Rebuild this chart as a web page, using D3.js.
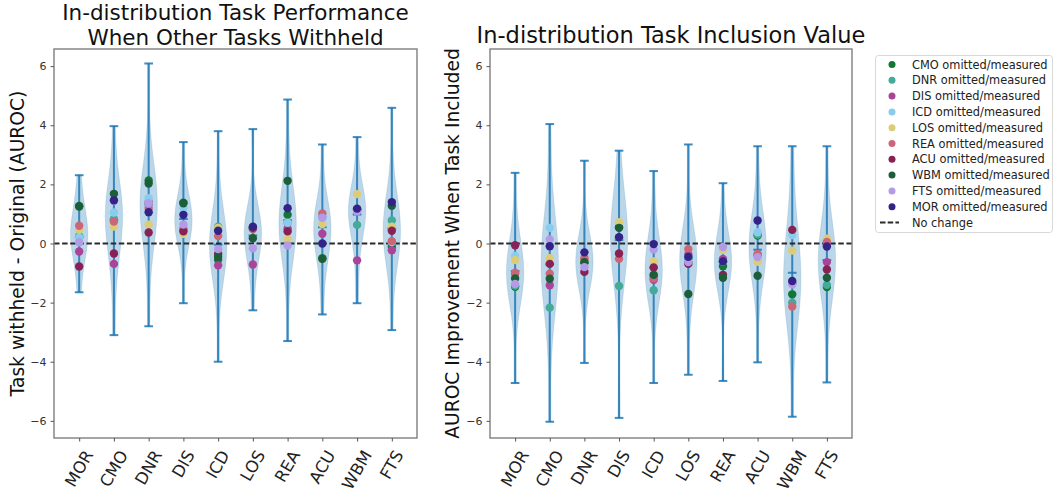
<!DOCTYPE html>
<html>
<head>
<meta charset="utf-8">
<script src="https://cdnjs.cloudflare.com/ajax/libs/d3/7.8.5/d3.min.js"></script>
<style>
  body { margin: 0; background: #fff; }
  svg { display: block; font-family: "DejaVu Sans", sans-serif; }
</style>
</head>
<body>
<div id="chart"></div>
<script>
// tasks on the x axis (measured task)
const tasks = ["MOR", "CMO", "DNR", "DIS", "ICD", "LOS", "REA", "ACU", "WBM", "FTS"];

// omitted tasks, in legend order
const seriesNames = ["CMO", "DNR", "DIS", "ICD", "LOS", "REA", "ACU", "WBM", "FTS", "MOR"];
const seriesColors = ["#117733", "#44aa99", "#aa4499", "#88ccee", "#ddcc77",
                      "#cc6677", "#882255", "#1d5e3a", "#b39be8", "#332288"];

const yTicks = [-6, -4, -2, 0, 2, 4, 6];

// left panel: task withheld - original, one row per omitted task, one column per measured task
const withheldDots = [
  [1.27, null, 2.13, 1.38, -0.55, 0.50, 0.97, -0.50, 1.15, -0.12],   // CMO
  [0.25, 0.83, null, 0.50, 0.57, 0.55, 0.69, 0.90, 0.63, 0.78],      // DNR
  [-0.27, -0.69, 1.40, null, -0.74, -0.71, 0.50, 0.33, -0.57, -0.23], // DIS
  [0.20, 1.05, 1.53, 1.20, null, 0.55, 0.70, 0.85, 1.10, 0.05],      // ICD
  [0.46, 0.57, 0.64, 0.33, 0.53, null, 0.15, 0.66, 1.67, 0.57],      // LOS
  [0.60, 0.74, 1.20, 0.46, 0.25, 0.50, null, 1.02, 1.10, 0.08],      // REA
  [-0.78, -0.34, 0.37, 0.41, -0.35, 0.53, 0.41, null, 1.15, 0.43],   // ACU
  [1.25, 1.68, 2.03, 1.36, -0.45, 0.18, 2.12, -0.52, null, 1.28],    // WBM
  [0.04, 1.44, 1.36, 0.64, -0.19, -0.16, -0.07, 0.87, 1.09, null],   // FTS
  [null, 1.46, 1.06, 0.97, 0.43, 0.57, 1.19, 0.00, 1.18, 1.40]       // MOR
];
const withheldMin = [-1.65, -3.10, -2.80, -2.02, -4.00, -2.26, -3.30, -2.40, -2.02, -2.93];
const withheldMax = [2.31, 3.97, 6.09, 3.43, 3.80, 3.87, 4.87, 3.35, 3.60, 4.59];
const withheldMean = [0.21, 0.79, 1.32, 0.83, -0.04, 0.27, 0.79, 0.55, 0.98, 0.51];

// right panel: AUROC improvement when task included
const inclusionDots = [
  [-1.46, null, -0.65, 0.55, -1.10, -0.50, -0.77, 0.27, -1.72, -1.47],   // CMO
  [-1.42, -2.17, null, -1.44, -1.58, -0.50, -0.60, 0.30, -2.00, -1.40],  // DNR
  [-1.02, -1.41, -0.55, null, -1.23, -0.37, -0.52, -0.40, -1.35, -0.63], // DIS
  [-0.42, 0.53, -0.60, 0.70, null, -0.45, -0.60, 0.38, 0.29, 0.10],      // ICD
  [-0.56, -0.50, -0.57, 0.72, -0.61, null, -0.22, -0.62, -0.24, 0.16],   // LOS
  [-0.99, -1.02, -0.50, -0.52, -1.18, -0.19, null, -0.35, -2.13, 0.05],  // REA
  [-0.06, -0.69, -0.96, -0.34, -0.81, -0.69, -1.06, null, 0.46, -0.88],  // ACU
  [-1.18, -1.19, -0.63, 0.53, -1.06, -1.71, -1.16, -1.09, null, -1.16],  // WBM
  [-1.37, 0.14, -0.80, 0.20, -0.20, -0.63, -0.12, -0.46, -1.38, null],   // FTS
  [null, -0.09, -0.30, 0.21, -0.02, -0.45, -0.60, 0.78, -1.27, -0.10]    // MOR
];
const inclusionMin = [-4.72, -6.03, -4.04, -5.90, -4.72, -4.44, -4.65, -4.02, -5.86, -4.70];
const inclusionMax = [2.39, 4.04, 2.80, 3.14, 2.45, 3.35, 2.04, 3.29, 3.29, 3.29];
const inclusionMean = [-0.93, -0.70, -0.65, 0.12, -0.82, -0.63, -0.62, -0.21, -0.99, -0.56];

const width = 1053, height = 492;
const violinBlue = "#1f77b4";

const svg = d3.select("#chart").append("svg")
  .attr("width", width)
  .attr("height", height);

svg.append("rect").attr("width", width).attr("height", height).attr("fill", "#fff");

// gaussian kde, scott's rule, like matplotlib's violinplot
function violinProfile(samples, lo, hi) {
  const n = samples.length;
  const bw = d3.deviation(samples) * Math.pow(n, -1 / 5);
  return d3.range(100).map(i => {
    const v = lo + (hi - lo) * i / 99;
    const dens = d3.sum(samples, s => Math.exp(-0.5 * ((v - s) / bw) ** 2));
    return { v, dens };
  });
}

function drawPanel(cfg) {
  const x = d3.scaleLinear().domain([0.275, 10.725]).range([cfg.left, cfg.right]);
  const y = d3.scaleLinear().domain([-6.58, 6.58]).range([cfg.bottom, cfg.top]);
  const g = svg.append("g");

  // violin bodies
  tasks.forEach((t, i) => {
    const pos = i + 1;
    const vals = cfg.dots.map(row => row[i]).filter(v => v !== null);
    const samples = vals.concat([cfg.min[i], cfg.max[i]]);
    const prof = violinProfile(samples, cfg.min[i], cfg.max[i]);
    const maxD = d3.max(prof, d => d.dens);
    const area = d3.area()
      .x0(d => x(pos - 0.25 * d.dens / maxD))
      .x1(d => x(pos + 0.25 * d.dens / maxD))
      .y(d => y(d.v));
    g.append("path")
      .attr("d", area(prof))
      .attr("fill", violinBlue)
      .attr("fill-opacity", 0.3)
      .attr("stroke", violinBlue)
      .attr("stroke-opacity", 0.15)
      .attr("stroke-width", 1);
  });

  // bars, caps, means
  const capHalf = 0.125;
  tasks.forEach((t, i) => {
    const pos = i + 1;
    const line = (x1, y1, x2, y2) => g.append("line")
      .attr("x1", x1).attr("y1", y1).attr("x2", x2).attr("y2", y2)
      .attr("stroke", violinBlue).attr("stroke-width", 2).attr("stroke-opacity", 0.85);
    line(x(pos), y(cfg.min[i]), x(pos), y(cfg.max[i]));
    [cfg.min[i], cfg.max[i], cfg.mean[i]].forEach(v =>
      line(x(pos - capHalf), y(v), x(pos + capHalf), y(v)));
  });

  // no-change line
  g.append("line")
    .attr("x1", cfg.left).attr("x2", cfg.right)
    .attr("y1", y(0)).attr("y2", y(0))
    .attr("stroke", "#2a2a2a").attr("stroke-width", 1.8)
    .attr("stroke-dasharray", "5.5,2.6");

  // dots, one series at a time, in legend order
  cfg.dots.forEach((row, si) => {
    g.append("g").selectAll("circle")
      .data(row.map((v, i) => ({ v, i })).filter(d => d.v !== null))
      .enter().append("circle")
      .attr("cx", d => x(d.i + 1))
      .attr("cy", d => y(d.v))
      .attr("r", 4.2)
      .attr("fill", seriesColors[si]);
  });

  // frame
  g.append("rect")
    .attr("x", cfg.left).attr("y", cfg.top)
    .attr("width", cfg.right - cfg.left).attr("height", cfg.bottom - cfg.top)
    .attr("fill", "none").attr("stroke", "#7f7f7f").attr("stroke-width", 1.4);

  // y axis
  const ya = g.append("g")
    .attr("transform", `translate(${cfg.left},0)`)
    .call(d3.axisLeft(y).tickValues(yTicks).tickSize(3.5).tickPadding(4));
  ya.select(".domain").remove();
  ya.selectAll(".tick line").attr("stroke", "#555");
  ya.selectAll(".tick text").attr("font-size", 11).attr("fill", "#333")
    .attr("font-family", "DejaVu Sans, sans-serif");

  // x axis
  const xa = g.append("g")
    .attr("transform", `translate(0,${cfg.bottom})`)
    .call(d3.axisBottom(x).tickValues(d3.range(1, 11)).tickSize(3.5).tickFormat(""));
  xa.select(".domain").remove();
  xa.selectAll(".tick line").attr("stroke", "#555");

  const fs = 16.5;
  const labelTop = cfg.bottom + 10;
  tasks.forEach((t, i) => {
    const txt = g.append("text")
      .attr("font-size", fs)
      .attr("fill", "#222")
      .attr("text-anchor", "middle")
      .attr("dominant-baseline", "central")
      .text(t);
    const len = txt.node().getComputedTextLength();
    const h = fs * 0.95;
    const halfV = (len * Math.sin(Math.PI / 3) + h * Math.cos(Math.PI / 3)) / 2;
    const cx = x(i + 1), cy = labelTop + halfV;
    txt.attr("transform", `translate(${cx},${cy}) rotate(-60)`);
  });

  // title
  const midX = (cfg.left + cfg.right) / 2;
  cfg.title.forEach((line, k) => {
    g.append("text")
      .attr("x", midX)
      .attr("y", cfg.titleY[k])
      .attr("text-anchor", "middle")
      .attr("font-size", cfg.titleSize)
      .attr("fill", "#111")
      .text(line);
  });

  // y label
  g.append("text")
    .attr("transform", `translate(${cfg.ylabelX},${(cfg.top + cfg.bottom) / 2}) rotate(-90)`)
    .attr("text-anchor", "middle")
    .attr("dominant-baseline", "central")
    .attr("font-size", 18.7)
    .attr("fill", "#111")
    .text(cfg.ylabel);
}

drawPanel({
  left: 54, right: 417, top: 49, bottom: 438,
  dots: withheldDots, min: withheldMin, max: withheldMax, mean: withheldMean,
  title: ["In-distribution Task Performance", "When Other Tasks Withheld"],
  titleY: [20, 45.3],
  titleSize: 21.5,
  ylabel: "Task withheld - Original (AUROC)",
  ylabelX: 17
});

drawPanel({
  left: 490, right: 852, top: 49, bottom: 438,
  dots: inclusionDots, min: inclusionMin, max: inclusionMax, mean: inclusionMean,
  title: ["In-distribution Task Inclusion Value"],
  titleY: [42.5],
  titleSize: 22.5,
  ylabel: "AUROC Improvement When Task Included",
  ylabelX: 452
});

// legend
const legend = svg.append("g").attr("transform", "translate(875,55)");
legend.append("rect")
  .attr("x", 0.5).attr("y", 0.5)
  .attr("width", 177).attr("height", 177)
  .attr("rx", 3)
  .attr("fill", "#fff").attr("stroke", "#d8d8d8");

const legendRows = seriesNames.map((s, i) => ({ label: s + " omitted/measured", color: seriesColors[i] }));
legendRows.forEach((d, i) => {
  const ry = 9.5 + i * 15.8;
  legend.append("circle").attr("cx", 17).attr("cy", ry).attr("r", 3.5).attr("fill", d.color);
  legend.append("text").attr("x", 37).attr("y", ry)
    .attr("dominant-baseline", "central")
    .attr("font-size", 11.4).attr("fill", "#222")
    .text(d.label);
});
const ncY = 9.5 + 10 * 15.8;
legend.append("line")
  .attr("x1", 5).attr("x2", 24).attr("y1", ncY).attr("y2", ncY)
  .attr("stroke", "#2a2a2a").attr("stroke-width", 1.8).attr("stroke-dasharray", "5.5,2.2");
legend.append("text").attr("x", 37).attr("y", ncY)
  .attr("dominant-baseline", "central")
  .attr("font-size", 11.4).attr("fill", "#222")
  .text("No change");
</script>
</body>
</html>
